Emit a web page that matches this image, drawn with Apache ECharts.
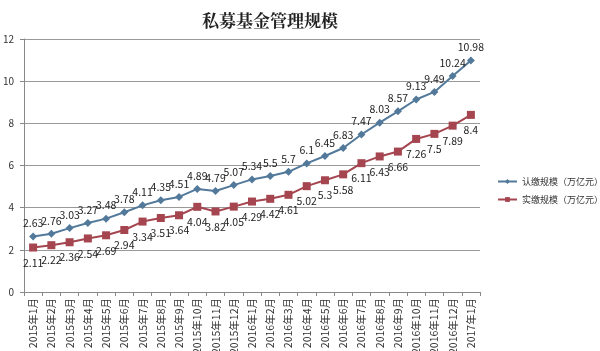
<!DOCTYPE html>
<html>
<head>
<meta charset="utf-8">
<script src="https://cdn.jsdelivr.net/npm/echarts@6/dist/echarts.min.js"></script>
<style>
  html, body { margin: 0; padding: 0; background: #fff; }
  #chart { width: 600px; height: 351px; }
</style>
</head>
<body>
<div id="chart"></div>
<script>
var months = ['2015年1月', '2015年2月', '2015年3月', '2015年4月', '2015年5月', '2015年6月',
  '2015年7月', '2015年8月', '2015年9月', '2015年10月', '2015年11月', '2015年12月',
  '2016年1月', '2016年2月', '2016年3月', '2016年4月', '2016年5月', '2016年6月',
  '2016年7月', '2016年8月', '2016年9月', '2016年10月', '2016年11月', '2016年12月', '2017年1月']
var subscribed = [2.63, 2.76, 3.03, 3.27, 3.48, 3.78, 4.11, 4.35, 4.51, 4.89, 4.79, 5.07,
  5.34, 5.5, 5.7, 6.1, 6.45, 6.83, 7.47, 8.03, 8.57, 9.13, 9.49, 10.24, 10.98]
var paid = [2.11, 2.22, 2.36, 2.54, 2.69, 2.94, 3.34, 3.51, 3.64, 4.04, 3.82, 4.05,
  4.29, 4.42, 4.61, 5.02, 5.3, 5.58, 6.11, 6.43, 6.66, 7.26, 7.5, 7.89, 8.4]
var yTicks = [0, 2, 4, 6, 8, 10, 12]

var font = '"Microsoft YaHei", "Noto Sans CJK SC", sans-serif'
var myChart = echarts.init(document.getElementById('chart'))
myChart.setOption({
  animation: false,
  title: {
    text: '私募基金管理规模',
    left: 265,
    textAlign: 'center',
    top: 7,
    textStyle: { fontSize: 17, fontWeight: 'bold', color: '#222', fontFamily: '"Noto Serif CJK SC", "Noto Sans CJK SC", serif' }
  },
  legend: {
    orient: 'vertical',
    left: 492,
    top: 172,
    itemWidth: 19,
    itemHeight: 6,
    itemGap: 9,
    textStyle: { fontSize: 9, color: '#333', fontFamily: font },
    data: ['认缴规模（万亿元）', '实缴规模（万亿元）']
  },
  grid: { left: 24, right: 120, top: 39, bottom: 59, outerBoundsMode: 'none' },
  xAxis: {
    type: 'category',
    data: months,
    boundaryGap: true,
    axisLine: { lineStyle: { color: '#888' } },
    axisTick: { show: true, alignWithLabel: false, length: 4, lineStyle: { color: '#888' } },
    axisLabel: { rotate: 90, fontSize: 10.5, color: '#333', margin: 6, interval: 0, fontFamily: font }
  },
  yAxis: {
    type: 'value',
    min: yTicks[0],
    max: yTicks[yTicks.length - 1],
    interval: 2,
    axisLine: { show: true, lineStyle: { color: '#888' } },
    axisTick: { show: true, length: 4, lineStyle: { color: '#888' } },
    axisLabel: { fontSize: 10, color: '#333', margin: 10, fontFamily: font },
    splitLine: { lineStyle: { color: '#999', width: 1 } }
  },
  series: [
    {
      name: '认缴规模（万亿元）',
      type: 'line',
      data: subscribed,
      symbol: 'diamond',
      symbolSize: 8,
      itemStyle: { color: '#52799a' },
      lineStyle: { width: 2, color: '#52799a' },
      label: { show: true, position: 'top', fontSize: 10.5, color: '#222', distance: 4, fontFamily: font }
    },
    {
      name: '实缴规模（万亿元）',
      type: 'line',
      data: paid,
      symbol: 'rect',
      symbolSize: 8,
      itemStyle: { color: '#a4454f' },
      lineStyle: { width: 2, color: '#a4454f' },
      label: { show: true, position: 'bottom', fontSize: 10.5, color: '#222', distance: 6, fontFamily: font }
    }
  ]
})
</script>
</body>
</html>
